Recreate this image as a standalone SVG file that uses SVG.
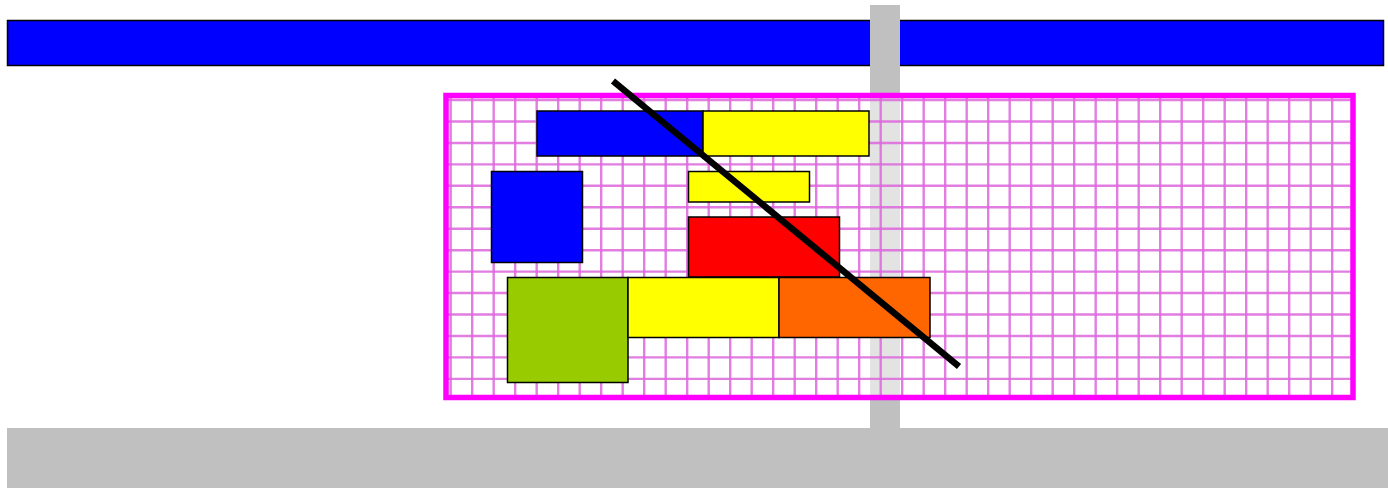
<svg xmlns="http://www.w3.org/2000/svg" width="1388" height="488" viewBox="0 0 1388 488">
<style>
.box{stroke:#000;stroke-width:1.5}
.grey{fill:#c0c0c0}
.gl{fill:none;stroke:#dd66dd;stroke-width:2.4;stroke-opacity:0.85}
</style>
<rect width="1388" height="488" fill="#fff"/>
<g id="top-bar"><rect class="box" x="7.5" y="20.5" width="1376" height="45" fill="#0000ff"/></g>
<g id="vertical-bar"><rect class="grey" x="870" y="5" width="30" height="424"/></g>
<g id="grid">
<rect x="446" y="95.5" width="907" height="302" fill="#fff" fill-opacity="0.55"/>
<path class="gl" d="M450.7 98V396M472.2 98V396M493.7 98V396M515.2 98V396M536.7 98V396M558.2 98V396M579.7 98V396M601.2 98V396M622.7 98V396M644.2 98V396M665.7 98V396M687.2 98V396M708.7 98V396M730.2 98V396M751.7 98V396M773.2 98V396M794.7 98V396M816.2 98V396M837.7 98V396M859.2 98V396M880.7 98V396M902.2 98V396M923.7 98V396M945.2 98V396M966.7 98V396M988.2 98V396M1009.7 98V396M1031.2 98V396M1052.7 98V396M1074.2 98V396M1095.7 98V396M1117.2 98V396M1138.7 98V396M1160.2 98V396M1181.7 98V396M1203.2 98V396M1224.7 98V396M1246.2 98V396M1267.7 98V396M1289.2 98V396M1310.7 98V396M1332.2 98V396"/>
<path class="gl" d="M448 100H1351M448 121.5H1351M448 143H1351M448 164.4H1351M448 185.8H1351M448 207.3H1351M448 228.7H1351M448 250.2H1351M448 271.6H1351M448 293H1351M448 314.5H1351M448 336H1351M448 357.4H1351M448 378.9H1351"/>
<rect x="446" y="95.5" width="907" height="302" fill="none" stroke="#ff00ff" stroke-width="5.5"/>
</g>
<g id="n-blue-top"><rect class="box" x="537" y="111" width="166" height="45" fill="#0000ff"/></g>
<g id="n-yellow-top"><rect class="box" x="703" y="111" width="166" height="45" fill="#ffff00"/></g>
<g id="n-blue-square"><rect class="box" x="491.5" y="171.5" width="91" height="91" fill="#0000ff"/></g>
<g id="n-yellow-small"><rect class="box" x="688.5" y="171.5" width="121" height="30.5" fill="#ffff00"/></g>
<g id="n-red"><rect class="box" x="688.5" y="217" width="151" height="60" fill="#ff0000"/></g>
<g id="n-green"><rect class="box" x="507.5" y="277.5" width="120.5" height="105" fill="#99cc00"/></g>
<g id="n-yellow-bottom"><rect class="box" x="628" y="277.5" width="151" height="60" fill="#ffff00"/></g>
<g id="n-orange"><rect class="box" x="779" y="277.5" width="151" height="60" fill="#ff6600"/></g>
<g id="connectors"><line x1="613" y1="81" x2="959" y2="366.5" stroke="#000" stroke-width="6.5"/></g>
<g id="bottom-bar"><rect class="grey" x="7" y="428" width="1381" height="60"/></g>
</svg>
